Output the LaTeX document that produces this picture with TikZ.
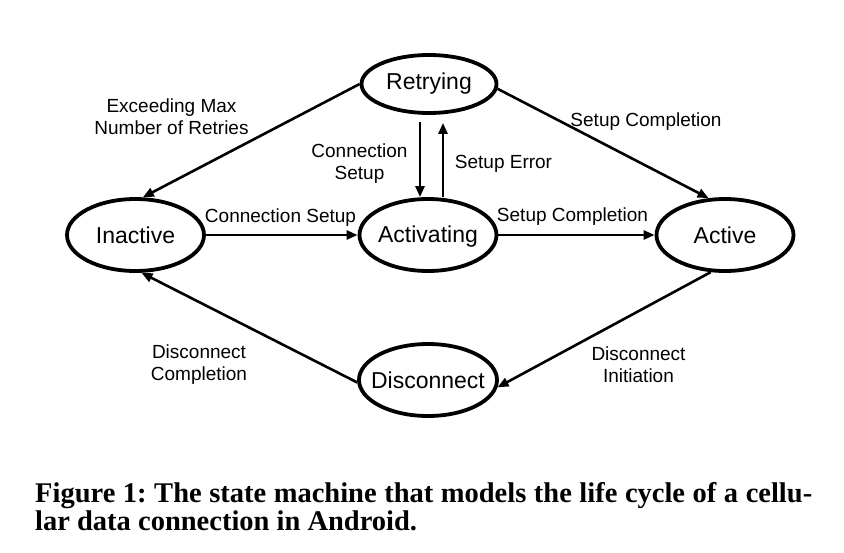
\documentclass[tikz,border=0pt]{standalone}
\usepackage{fontspec}
\setmainfont{Liberation Serif}
\setsansfont{Liberation Sans}
\usetikzlibrary{arrows.meta,shapes.geometric}
\frenchspacing
\begin{document}
\begin{tikzpicture}[x=1pt,y=-1pt,
  state/.style={draw, line width=3.8pt, ellipse, minimum width=137pt, minimum height=72pt,
    inner sep=0pt, font=\sffamily\fontsize{23}{27}\selectfont},
  trans/.style={line width=2.6pt, -{Triangle[length=11pt,width=9pt]}},
  lbl/.style={font=\sffamily\fontsize{19}{22.5}\selectfont, inner sep=0pt, anchor=base},
  capline/.style={font=\bfseries\fontsize{28.5}{29}\selectfont, inner sep=0pt, anchor=base west},
  ]
\useasboundingbox (0,0) rectangle (844,552);
% states
\node[state] (In) at (135.5,235) {\makebox[0pt]{Inactive}};
\node[state, text depth=2pt] (Ac) at (428,235) {\makebox[0pt]{Activating}};
\node[state] (Av) at (725,235) {\makebox[0pt]{Active}};
\node[state, minimum width=135pt, minimum height=58pt] (Rt) at (429,84) {\makebox[0pt]{Retrying}};
\node[state, minimum width=138pt] (Dc) at (428,380) {\makebox[0pt]{Disconnect}};
% transitions
\draw[trans] (Rt.west) -- (In.79);
\draw[trans] ([xshift=-9pt,yshift=-7pt]Rt.south) -- ([xshift=-8pt]Ac.north);
\draw[trans] ([xshift=15pt]Ac.north) -- ([xshift=14pt,yshift=-8pt]Rt.south);
\draw[trans] (Rt.356) -- (Av.114);
\draw[trans] (In.east) -- (Ac.west);
\draw[trans] (Ac.east) -- (Av.west);
\draw[trans] (Av.249) -- (Dc.354);
\draw[trans] (Dc.182) -- (In.279);
% labels
\node[lbl] (l1) at (171.5,112) {\begin{tabular}[t]{@{}c@{}}Exceeding Max\\Number of Retries\end{tabular}};
\node[lbl] (l2) at (359.5,157) {\begin{tabular}[t]{@{}c@{}}Connection\\Setup\end{tabular}};
\node[lbl] (l3) at (503.5,168) {Setup Error};
\node[lbl] (l4) at (646,126) {Setup Completion};
\node[lbl] (l5) at (280.5,222) {Connection Setup};
\node[lbl] (l6) at (572.5,221) {Setup Completion};
\node[lbl] (l7) at (199,358) {\begin{tabular}[t]{@{}c@{}}Disconnect\\Completion\end{tabular}};
\node[lbl] (l8) at (638.5,360) {\begin{tabular}[t]{@{}c@{}}Disconnect\\Initiation\end{tabular}};
% caption
\node[capline] (cap1) at (35,502) {\hbox to 777pt{Figure 1: The state machine that models the life cycle of a cellu-}};
\node[capline] (cap2) at (35,530) {lar data connection in Android.};
\end{tikzpicture}
\end{document}
